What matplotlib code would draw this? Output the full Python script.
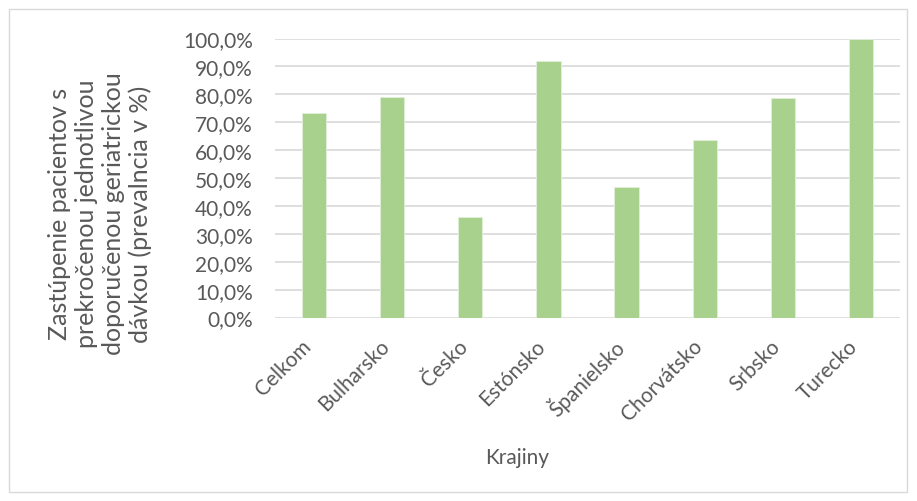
import matplotlib.pyplot as plt
import matplotlib.transforms as mtransforms
import numpy as np
from matplotlib.patches import Rectangle
from matplotlib.ticker import FuncFormatter

krajiny = ["Celkom", "Bulharsko", "Česko", "Estónsko", "Španielsko",
           "Chorvátsko", "Srbsko", "Turecko"]
prevalencia = [73.2, 79.0, 36.0, 92.1, 46.9, 63.7, 78.5, 100.0]

plt.rcParams['font.family'] = ['Lato', 'DejaVu Sans']
text_col = '#595959'

W, H = 917, 502
fig = plt.figure(figsize=(W / 100, H / 100), dpi=100)
ax = fig.add_axes([275 / W, 1 - 318.5 / H, 625 / W, (318.5 - 39.5) / H])

x = np.arange(len(krajiny))
ax.bar(x, prevalencia, width=0.31, color='#A9D18E', edgecolor='#E2EFD9',
       linewidth=0.6, zorder=3)

ax.set_xlim(-0.5, len(krajiny) - 0.5)
ax.set_ylim(0, 100)
ax.set_yticks(np.arange(0, 101, 10))
ax.yaxis.set_major_formatter(FuncFormatter(lambda v, p: f"{v:.1f}%".replace('.', ',')))
ax.grid(axis='y', color='#D9D9D9', linewidth=1.2, zorder=0)
for s in ax.spines.values():
    s.set_visible(False)
ax.tick_params(axis='both', length=0, colors=text_col, labelsize=15)
ax.tick_params(axis='y', pad=16)

ax.set_xticks(x)
ax.set_xticklabels(krajiny, rotation=45, ha='right', va='center',
                   rotation_mode='anchor')
ax.tick_params(axis='x', pad=18)
# nudge the slanted country names a little to the left
shift = mtransforms.ScaledTranslation(-6 / 100, 0, fig.dpi_scale_trans)
for lbl in ax.get_xticklabels():
    lbl.set_transform(lbl.get_transform() + shift)

fig.text(100 / W, 1 - 214 / H,
         "Zastúpenie pacientov s\nprekročenou jednotlivou\ndoporučenou geriatrickou\ndávkou (prevalncia v %)",
         rotation=90, ha='center', va='center', multialignment='center',
         color=text_col, fontsize=18, linespacing=1.2)
fig.text(517 / W, 1 - 458 / H, "Krajiny", ha='center', va='center',
         color=text_col, fontsize=15)

fig.patches.append(Rectangle((9 / W, 1 - 493 / H), 898 / W, 483 / H,
                             transform=fig.transFigure, fill=False,
                             edgecolor='#D9D9D9', linewidth=1))

fig.savefig('out.png', dpi=100)
